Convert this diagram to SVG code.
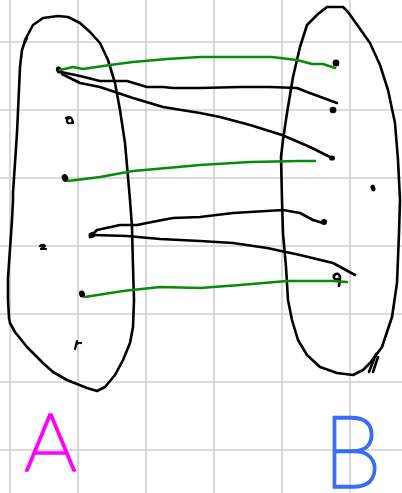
<svg xmlns="http://www.w3.org/2000/svg" width="402" height="493" viewBox="0 0 402 493">
<style>
.grid line{stroke:#cfcfcf;stroke-width:1.6}
.ink{fill:none;stroke:#000;stroke-width:2.6;stroke-linecap:round;stroke-linejoin:round}
.g{fill:none;stroke:#0a8a0a;stroke-width:2.6;stroke-linecap:round;stroke-linejoin:round}
.k{fill:none;stroke:#000;stroke-width:2.6;stroke-linecap:round;stroke-linejoin:round}
.pt{fill:#000}
.mk{fill:none;stroke:#000;stroke-width:2.2;stroke-linecap:round;stroke-linejoin:round}
.lbl{font-family:Roboto,"Liberation Sans",sans-serif;font-weight:100;stroke-width:1.3;stroke-linejoin:round}
</style>
<rect width="402" height="493" fill="#fff"/>
<g class="grid" id="grid">
<line x1="10" y1="0" x2="10" y2="493"/>
<line x1="78" y1="0" x2="78" y2="493"/>
<line x1="146" y1="0" x2="146" y2="493"/>
<line x1="214" y1="0" x2="214" y2="493"/>
<line x1="282" y1="0" x2="282" y2="493"/>
<line x1="350" y1="0" x2="350" y2="493"/>
<line x1="0" y1="42" x2="402" y2="42"/>
<line x1="0" y1="110" x2="402" y2="110"/>
<line x1="0" y1="178" x2="402" y2="178"/>
<line x1="0" y1="246" x2="402" y2="246"/>
<line x1="0" y1="314" x2="402" y2="314"/>
<line x1="0" y1="382" x2="402" y2="382"/>
<line x1="0" y1="450" x2="402" y2="450"/>
</g>
<g id="setA">
<path class="ink" d="M27,38 L24,44 L25,40 L33,25 L43,18 L58,16 L68,17 L80,23 L90,32 L100,43 L108,60 L115,83 L120,110 L125,143 L128,177 L130,200 L132,227 L133,267 L134,300 L133,327 L130,343 L123,360 L115,375 L105,387 L97,391 L87,388 L67,380 L53,372 L43,363 L27,347 L15,332 L10,323 L9,318 L8,300 L8,278 L12,220 L13,200 L13,193 L17,133 L20,67 L22,50 L24,44"/>
<ellipse class="pt" cx="59" cy="70" rx="3" ry="3.6" transform="rotate(-20 59 70)"/>
<path class="mk" d="M70,118 q-3,0 -3,3 q0,3 4,2 l2,-1 M66,118 q4,-2 6,1 l1,4"/>
<ellipse class="pt" cx="65" cy="178" rx="3.2" ry="4" transform="rotate(-20 65 178)"/>
<path class="mk" d="M40,246 q3,-2 5,0 l-4,3 l5,0"/>
<ellipse class="pt" cx="92" cy="235" rx="3.5" ry="3" transform="rotate(-20 92 235)"/>
<ellipse class="pt" cx="82" cy="294" rx="3" ry="3.6" transform="rotate(-15 82 294)"/>
<path class="mk" d="M77,341 l-2,8 M76,345 q2,-3 5,-2"/>
</g>
<g id="setB">
<path class="ink" d="M327,7 L343,7 L348,12 L358,26 L370,43 L380,65 L388,90 L395,123 L398,160 L400,200 L399,233 L397,283 L392,317 L382,347 L370,363 L363,370 L353,375 L337,373 L320,367 L307,355 L298,340 L292,320 L288,300 L286,267 L283,233 L282,200 L281,157 L283,140 L287,113 L293,77 L300,47 L307,25 L318,14 L327,7"/>
<path class="ink" d="M369,372 L376,354 M373,372 L378,357"/>
<ellipse class="pt" cx="336" cy="63" rx="3.4" ry="3.6"/>
<ellipse class="pt" cx="333" cy="110" rx="3.4" ry="3.2"/>
<ellipse class="pt" cx="332" cy="158" rx="3" ry="2.6"/>
<ellipse class="pt" cx="373" cy="188" rx="2.4" ry="3.4" transform="rotate(-15 373 188)"/>
<ellipse class="pt" cx="324" cy="222" rx="3" ry="3"/>
<path class="mk" d="M340,277 q-1,-4 -4,-3 q-3,1 -2,4 q2,3 6,0 l-1,8" style="stroke-width:2.6"/>
</g>
<g id="connectors">
<path class="g" d="M60,70 L73,67 L83,69 L110,65 L133,62 L167,59 L200,57 L272,57 L297,60 L312,64 L323,64 L335,68"/>
<path class="k" d="M61,72 L80,76 L100,81 L127,81 L147,87 L163,87 L173,88 L200,88 L240,87 L270,87 L297,88 L307,92 L337,103"/>
<path class="k" d="M62,74 L80,83 L100,87 L133,98 L163,107 L200,113 L220,117 L250,125 L282,135 L310,147 L330,157"/>
<path class="g" d="M68,181 L100,177 L133,171 L167,168 L200,165 L250,162 L300,161 L315,161"/>
<path class="k" d="M90,237 L97,230 L120,225 L137,225 L157,221 L173,218 L200,217 L233,213 L283,210 L300,213 L313,220 L323,223"/>
<path class="k" d="M93,235 L127,236 L160,239 L200,241 L233,243 L267,248 L300,255 L333,263 L355,275"/>
<path class="g" d="M85,297 L123,291 L160,287 L200,288 L240,285 L287,281 L333,281 L347,282"/>
</g>
<g id="labels">
<text class="lbl" x="24" y="471" font-size="80" fill="#ff00ff" stroke="#ff00ff" textLength="53" lengthAdjust="spacingAndGlyphs">A</text>
<text class="lbl" x="324" y="488" font-size="100" fill="#3a6cf4" stroke="#3a6cf4" textLength="57" lengthAdjust="spacingAndGlyphs">B</text>
</g>
</svg>
